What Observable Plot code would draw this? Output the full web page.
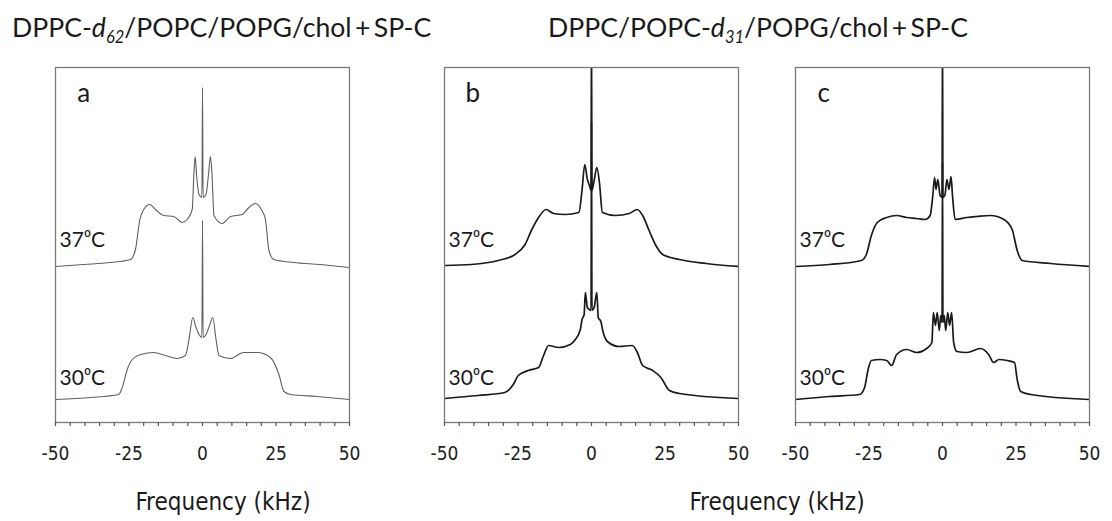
<!DOCTYPE html>
<html><head><meta charset="utf-8">
<script src="https://cdn.jsdelivr.net/npm/d3@7"></script>
<script src="https://cdn.jsdelivr.net/npm/@observablehq/plot@0.6"></script>
<style>
body{margin:0;background:#fff;}
#fig{position:relative;width:1112px;height:521px;overflow:hidden;background:#fff;font-family:Lato,"Open Sans",sans-serif;color:#1a1a1a}
.title{position:absolute;top:12px;font-size:26.6px;white-space:nowrap;line-height:1.2}
.title sub{font-size:0.62em;vertical-align:-0.35em;line-height:0}
.xlab{position:absolute;top:488px;font-family:"Liberation Sans Narrow","DejaVu Sans Condensed",sans-serif;font-size:24px;white-space:nowrap;transform:translateX(-50%);line-height:1.2}
.panel{position:absolute;top:57px}
</style></head><body><div id="fig"></div>
<script>
// Frequency axis ticks (kHz)
const minorTicks = [-50,-45,-40,-35,-30,-25,-20,-15,-10,-5,0,5,10,15,20,25,30,35,40,45,50];
const majorTicks = [-50,-25,0,25,50];
const panelLetters = ["a","b","c"];
const tempLabels = ["37\u2070C","30\u2070C"];
const titles = ["DPPC-<i>d<sub>62</sub></i>/POPC/POPG/chol\u2009+\u2009SP-C",
                "DPPC/POPC-<i>d<sub>31</sub></i>/POPG/chol\u2009+\u2009SP-C"];
const xLabel = "Frequency (kHz)";

// Stacking offsets (a.u.) for [37 °C, 30 °C] in each panel
const offsetsA = [156, 23];
const offsetsB = [157, 24];
const offsetsC = [156, 23];

// Spectra: [frequency kHz, intensity a.u.]
const a37 = [[-50,0],[-40.4,2],[-31.3,4],[-24.5,7],[-22.8,17],[-21.3,47],[-20,57],[-17.9,62],[-16,57],[-13.2,51],[-9.8,50],[-6.9,44],[-5.2,47],[-3.5,57],[-2.9,94],[-2.5,110],[-2.0,91],[-1.2,72],[-0.2,69],[0,179],[0.2,69],[1.2,72],[2.0,91],[2.7,110],[3.2,94],[3.9,51],[6.7,43],[9.5,50],[13.5,52],[15.8,59],[18,63],[20,57],[21.4,47],[22.6,16],[24.3,7],[31,4],[40,2],[50,-1]];
const a30 = [[-50,0],[-38,2],[-28.5,5],[-27.3,12],[-25.6,30],[-23.9,40],[-21,45],[-16.6,47],[-12.6,44],[-8.6,41],[-5.8,44],[-4.6,60],[-3.3,82],[-2.4,74],[-1.2,65],[-0.2,62],[0,179],[0.2,62],[1.2,65],[2.4,74],[3.5,82],[4.6,60],[5.6,44],[9.5,41],[14,47],[18.6,47],[23.1,42],[26,25],[27.7,8],[30,5],[39,3],[50,0]];
const b37 = [[-50,0],[-40.9,1],[-31.7,5],[-26,11],[-22.6,21],[-20.3,36],[-18,48],[-15.5,56],[-12.9,52],[-8.9,51],[-4.3,53],[-3.2,76],[-2.3,101],[-1.4,86],[-0.7,80],[-0.15,75],[0,240],[0.15,75],[0.9,85],[1.8,98],[2.7,83],[3.7,53],[8.2,50],[12.8,52],[15.6,56],[17.4,50],[19.6,35],[21.9,20],[24.2,11],[29.9,6],[39,2],[50,-1]];
const b30 = [[-50,0],[-38.6,3],[-29.5,6],[-26.6,14],[-24.9,23],[-21.5,28],[-18,31],[-16.3,43],[-14.6,53],[-11.2,51],[-7.2,54],[-5.5,59],[-3.8,69],[-3.2,79],[-2.5,84],[-2.1,106],[-1.4,91],[-0.7,89],[-0.15,88],[0,276],[0.15,88],[0.9,91],[1.8,106],[2.3,81],[3.2,77],[3.9,67],[5.4,57],[9.4,52],[13.9,53],[15.6,46],[17.4,33],[20.8,28],[23.6,21],[26.5,8],[29.9,5],[50,0]];
const c37 = [[-50,0],[-38.4,2],[-27.6,6],[-25.9,12],[-24.2,31],[-22.2,44],[-19,49],[-15.6,51],[-12.2,49],[-8.8,48],[-5.9,47],[-4.2,51],[-3.3,71],[-2.7,89],[-2.2,77],[-1.6,87],[-0.8,71],[-0.15,69],[0,240],[0.15,69],[0.8,71],[1.5,87],[2.2,77],[2.9,90],[3.4,71],[4.3,47],[8.3,49],[11.7,50],[16.3,51],[20.9,47],[23.7,37],[25.4,16],[27.1,6],[36.8,3],[50,0]];
const c30 = [[-50,0],[-38.4,3],[-28.2,5],[-26.5,12],[-25.3,30],[-24.2,39],[-21.3,40],[-19,39],[-17.3,34],[-15.6,45],[-12.2,50],[-8.8,47],[-5.4,51],[-3.6,57],[-3.1,87],[-2.4,74],[-1.8,87],[-1.1,69],[-0.6,84],[-0.15,77],[0,237],[0.15,77],[0.6,84],[1.1,69],[1.8,87],[2.4,74],[3.1,87],[3.8,57],[4.9,48],[8.3,47],[12.9,51],[15.7,45],[17.4,37],[19.2,40],[22,39],[24.5,37],[25.4,20],[26.6,8],[30,5],[50,0]];

const panels = [
  {letter: panelLetters[0], s37: a37, s30: a30, off: offsetsA, left: 0,   width: 400, ml: 55, mr: 51, color: "#5f5f5f", sw: 1.1},
  {letter: panelLetters[1], s37: b37, s30: b30, off: offsetsB, left: 394, width: 400, ml: 50, mr: 56, color: "#1a1a1a", sw: 1.7},
  {letter: panelLetters[2], s37: c37, s30: c30, off: offsetsC, left: 745, width: 367, ml: 50, mr: 23, color: "#1a1a1a", sw: 1.7}
];

const fig = document.getElementById("fig");

for (const p of panels) {
  const chart = Plot.plot({
    width: p.width, height: 420,
    marginTop: 10, marginBottom: 55, marginLeft: p.ml, marginRight: p.mr,
    x: {domain: [-50, 50]},
    y: {domain: [0, 355], axis: null},
    style: {fontFamily: "'Liberation Sans Narrow','DejaVu Sans Condensed',sans-serif", fontSize: "18px", color: "#222", background: "transparent", overflow: "visible"},
    marks: [
      Plot.line(p.s37, {x: d => d[0], y: d => d[1] + p.off[0], stroke: p.color, strokeWidth: p.sw, curve: "monotone-x", clip: true}),
      Plot.line(p.s30, {x: d => d[0], y: d => d[1] + p.off[1], stroke: p.color, strokeWidth: p.sw, curve: "monotone-x", clip: true}),
      Plot.frame({stroke: "#7a7a7a", strokeWidth: 1.3}),
      Plot.axisX({ticks: minorTicks, tickFormat: () => "", tickSize: 4, stroke: "#555", strokeWidth: 1.2}),
      Plot.axisX({ticks: majorTicks, tickSize: 0, tickPadding: 24, fill: "#222", fontSize: 19, tickFormat: d => String(d)}),
      Plot.text([p.letter], {x: -40.4, y: 329, text: d => d, fontSize: 26, fontFamily: "Lato, 'Open Sans', sans-serif", fill: "#1a1a1a"}),
      Plot.text([tempLabels[0]], {x: -48.6, y: 182, text: d => d, textAnchor: "start", fontSize: 21, fontFamily: "Lato, 'Open Sans', sans-serif", fill: "#1a1a1a"}),
      Plot.text([tempLabels[1]], {x: -48.6, y: 44, text: d => d, textAnchor: "start", fontSize: 21, fontFamily: "Lato, 'Open Sans', sans-serif", fill: "#1a1a1a"})
    ]
  });
  chart.classList.add("panel");
  chart.style.left = p.left + "px";
  fig.appendChild(chart);
}

const t1 = document.createElement("div");
t1.className = "title"; t1.style.left = "12px"; t1.innerHTML = titles[0];
fig.appendChild(t1);
const t2 = document.createElement("div");
t2.className = "title"; t2.style.left = "548px"; t2.innerHTML = titles[1];
fig.appendChild(t2);

for (const cx of [223, 777]) {
  const l = document.createElement("div");
  l.className = "xlab"; l.style.left = cx + "px"; l.textContent = xLabel;
  fig.appendChild(l);
}
</script></body></html>
